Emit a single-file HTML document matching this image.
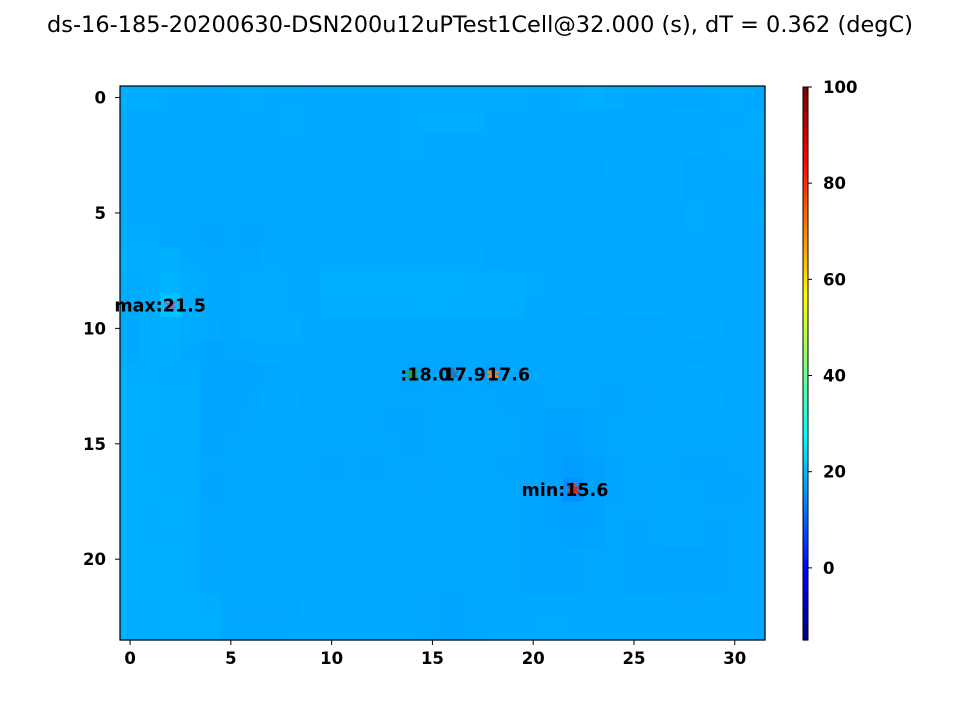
<!DOCTYPE html>
<html><head><meta charset="utf-8"><style>
body{margin:0;background:#fff}
svg text{font-family:"DejaVu Sans","Liberation Sans",sans-serif}
</style></head><body>
<svg id="chart" width="960" height="720" xmlns="http://www.w3.org/2000/svg">
<text x="480" y="32" text-anchor="middle" font-size="22" textLength="866" lengthAdjust="spacingAndGlyphs">ds-16-185-20200630-DSN200u12uPTest1Cell@32.000 (s), dT = 0.362 (degC)</text>
<g id="cells"></g>
<g id="annot"></g>
<rect x="120" y="86" width="645" height="554" fill="none" stroke="#000" stroke-width="1.2"/>
<g id="axes"></g>
<g id="cbar"></g>
</svg>
<script>
const grid = [
[19.0,19.0,18.6,18.6,18.4,18.6,18.8,18.6,18.6,18.4,18.6,18.6,18.6,18.6,18.8,18.8,18.8,18.8,18.8,18.8,18.6,18.6,18.8,19.2,18.8,18.6,18.6,18.2,18.2,18.6,18.8,18.4],
[18.6,18.4,18.6,18.6,18.6,18.6,18.6,18.6,18.8,18.6,18.6,18.6,18.6,18.6,18.8,19.0,19.0,19.0,18.6,18.6,18.6,18.6,18.6,18.6,18.4,18.6,18.6,18.6,18.6,18.6,18.6,18.8],
[18.4,18.4,18.6,18.6,18.4,18.6,18.6,18.6,18.6,18.4,18.4,18.6,18.6,18.6,18.8,18.6,18.6,18.6,18.6,18.6,18.6,18.6,18.4,18.4,18.6,18.6,18.6,18.6,18.6,18.6,18.8,18.6],
[18.4,18.4,18.6,18.6,18.4,18.6,18.6,18.6,18.6,18.4,18.4,18.4,18.4,18.6,18.6,18.6,18.4,18.6,18.6,18.6,18.4,18.6,18.6,18.2,18.6,18.6,18.6,18.6,18.2,18.4,18.6,18.6],
[18.4,18.6,18.6,18.6,18.4,18.6,18.6,18.6,18.6,18.4,18.6,18.6,18.6,18.6,18.4,18.2,18.2,18.2,18.4,18.4,18.4,18.6,18.6,18.4,18.4,18.4,18.6,18.6,18.2,18.4,18.4,18.2],
[18.6,18.4,18.4,18.6,18.4,18.6,18.6,18.6,18.6,18.4,18.6,18.6,18.4,18.6,18.6,18.4,18.4,18.4,18.6,18.6,18.6,18.2,18.4,18.4,18.2,18.2,18.4,18.4,18.8,18.6,18.6,18.6],
[18.8,18.8,18.4,18.2,18.0,18.2,18.0,18.2,18.4,18.4,18.6,18.6,18.6,18.6,18.4,18.2,18.2,18.4,18.4,18.4,18.2,18.4,18.4,18.4,18.4,18.4,18.4,18.4,18.6,18.6,18.6,18.2],
[19.0,19.0,19.2,18.6,18.4,18.2,18.2,18.6,18.6,18.4,18.6,18.6,18.6,18.6,18.6,18.6,18.6,18.6,18.2,18.4,18.4,18.4,18.6,18.6,18.4,18.4,18.4,18.4,18.6,18.4,18.2,18.4],
[18.8,19.0,19.6,19.0,18.6,18.4,18.8,18.8,18.6,18.6,19.2,19.2,19.2,19.2,19.2,19.2,19.2,19.0,19.0,19.0,18.8,18.6,18.4,18.6,18.6,18.6,18.6,18.4,18.6,18.6,18.6,18.4],
[18.6,19.0,21.5,19.0,18.6,18.4,18.8,18.8,18.6,18.6,19.0,19.0,19.0,19.0,19.0,19.2,19.0,19.0,19.0,19.0,18.4,18.4,18.4,18.6,18.6,18.6,18.6,18.6,18.6,18.4,18.4,18.4],
[18.6,19.0,19.2,18.8,18.6,18.2,18.8,18.8,18.8,18.4,18.6,18.6,18.6,18.6,18.4,18.4,18.4,18.2,18.2,18.4,18.4,18.4,18.2,18.2,18.4,18.2,18.2,18.4,18.6,18.6,18.2,18.4],
[18.6,19.0,19.0,18.6,18.0,18.2,18.4,18.6,18.6,18.4,18.4,18.4,18.4,18.4,18.4,18.4,18.2,18.2,18.2,18.2,18.4,18.2,18.2,18.2,18.2,18.4,18.4,18.4,18.2,18.4,18.4,18.4],
[19.0,19.0,18.8,18.8,18.0,18.0,18.0,18.2,18.4,18.4,18.4,18.4,18.4,18.4,18.0,18.2,17.9,18.4,17.6,18.4,18.2,18.2,18.2,18.2,18.4,18.4,18.4,18.4,18.6,18.6,18.4,18.4],
[19.2,19.2,19.0,19.0,18.0,18.0,18.2,18.6,18.6,18.2,18.2,18.2,18.4,18.2,18.2,18.2,18.2,18.2,18.2,18.0,18.0,18.2,18.2,18.2,18.0,18.2,18.2,18.2,18.4,18.6,18.2,18.4],
[19.2,19.2,19.0,19.0,18.0,18.0,18.4,18.4,18.4,18.2,18.2,18.2,18.4,18.0,18.0,18.2,18.2,18.2,18.2,18.2,18.0,17.6,17.6,18.0,18.2,18.2,18.4,18.2,18.2,18.4,18.2,18.4],
[19.2,19.0,19.0,19.0,18.0,18.2,18.4,18.4,18.4,18.2,18.4,18.4,18.2,18.2,18.0,18.2,18.2,18.2,18.4,18.2,18.0,17.4,17.4,18.0,18.2,18.4,18.4,18.2,18.2,18.4,18.2,18.2],
[19.2,19.0,19.0,19.0,18.2,18.2,18.4,18.4,18.4,18.2,18.0,18.2,18.0,18.2,18.2,18.2,18.2,18.2,18.2,18.0,18.0,17.4,17.0,17.4,18.0,18.4,18.2,18.2,18.0,18.0,18.2,18.2],
[19.2,19.2,19.0,19.0,18.0,18.2,18.2,18.4,18.4,18.2,18.2,18.2,18.2,18.2,18.2,18.2,18.4,18.4,18.4,18.2,18.0,17.6,15.6,17.6,18.0,18.2,18.2,18.2,18.2,18.0,18.0,18.2],
[19.2,19.0,19.2,19.0,18.4,18.2,18.4,18.6,18.6,18.6,18.4,18.4,18.4,18.4,18.4,18.4,18.2,18.2,18.2,18.2,18.0,17.6,17.4,17.6,18.2,18.2,18.2,18.2,18.2,18.2,18.2,18.4],
[19.2,19.0,19.0,19.0,18.4,18.2,18.4,18.4,18.4,18.4,18.4,18.4,18.4,18.6,18.4,18.4,18.2,18.2,18.2,18.2,18.0,17.8,17.6,17.8,18.2,18.0,18.2,18.2,18.2,18.0,18.2,18.4],
[19.2,19.2,19.2,19.0,18.2,18.2,18.2,18.4,18.4,18.4,18.4,18.4,18.4,18.4,18.4,18.2,18.2,18.4,18.2,18.2,18.0,18.0,18.0,18.2,18.2,17.8,18.0,17.8,17.8,18.0,18.2,18.4],
[19.2,19.2,19.2,19.0,18.4,18.2,18.2,18.4,18.4,18.4,18.4,18.4,18.4,18.4,18.4,18.4,18.2,18.4,18.4,18.2,18.0,18.0,18.0,18.2,18.2,18.0,18.0,18.0,18.0,18.0,18.2,18.4],
[19.0,19.0,19.2,19.2,19.0,18.2,18.2,18.2,18.2,18.6,18.6,18.4,18.4,18.4,18.2,18.2,18.0,18.2,18.4,18.6,18.6,18.6,18.6,18.4,18.6,18.6,18.6,18.4,18.4,18.6,18.6,18.4],
[19.0,19.0,19.2,19.2,19.2,18.2,18.2,18.2,18.4,18.4,18.6,18.4,18.4,18.4,18.4,18.2,18.0,18.2,18.4,18.6,18.6,18.8,18.6,18.6,18.6,18.6,18.6,18.4,18.6,18.6,18.6,18.4]
];
const xTicks = [0,5,10,15,20,25,30];
const yTicks = [0,5,10,15,20];
const cbTicks = [0,20,40,60,80,100];
const vmin = -15, vmax = 100;
const markCols = [2,14,16,18,22];
const markRows = [9,12,12,12,17];
const markLabels = ["max:21.5",":18.0","17.9","17.6","min:15.6"];
const markColors = ["#9467bd","#2ca02c","#1f77b4","#ff7f0e","#d62728"];
const NS="http://www.w3.org/2000/svg";
const px0=120,py0=86,pw=645,ph=554,nc=32,nr=24,cw=pw/nc,ch=ph/nr;
const xs=c=>px0+(c+0.5)*cw, ys=r=>py0+(r+0.5)*ch;
const labelShift=[-56,-12,-10,-6,-52];
function jet(t){t=Math.max(0,Math.min(1,t));
 const f=x=>Math.max(0,Math.min(1,x));
 const r=f(Math.min(4*t-1.5,-4*t+4.5)),g=f(Math.min(4*t-0.5,-4*t+3.5)),b=f(Math.min(4*t+0.5,-4*t+2.5));
 return `rgb(${Math.round(r*255)},${Math.round(g*255)},${Math.round(b*255)})`;}
function mk(tag,attrs,parent){const e=document.createElementNS(NS,tag);for(const k in attrs)e.setAttribute(k,attrs[k]);parent.appendChild(e);return e;}
const cells=document.getElementById('cells');
grid.forEach((row,r)=>row.forEach((v,c)=>{
 const e=mk('rect',{x:px0+c*cw,y:py0+r*ch,width:cw+0.6,height:ch+0.6,fill:jet((v-vmin)/(vmax-vmin))},cells);
 
 
}));
const an=document.getElementById('annot');
markCols.forEach((c,i)=>{
 const x=xs(c),y=ys(markRows[i]);
 const p=mk('text',{x:x,y:y+6,'text-anchor':'middle','font-size':'17',fill:markColors[i],'font-weight':'bold'},an);p.textContent='✱';
 
 
});
markCols.forEach((c,i)=>{
 const x=xs(c),y=ys(markRows[i]);
 const t=mk('text',{x:x+labelShift[i],y:y+6,'font-size':'17.5','font-weight':'bold'},an);
 t.textContent=markLabels[i];
 
 
});
const ax=document.getElementById('axes');
xTicks.forEach(v=>{const x=xs(v);
 mk('line',{x1:x,x2:x,y1:640,y2:645,stroke:'#000'},ax);
 const t=mk('text',{x:x,y:664,'text-anchor':'middle','font-size':'16.5','font-weight':'bold'},ax);t.textContent=v;
 
 
});
yTicks.forEach(v=>{const y=ys(v);
 mk('line',{x1:115,x2:120,y1:y,y2:y,stroke:'#000'},ax);
 const t=mk('text',{x:106,y:y+6,'text-anchor':'end','font-size':'16.5','font-weight':'bold'},ax);t.textContent=v;
 
 
});
const cb=document.getElementById('cbar');
const cbx=803,cbw=5,cby0=87,cby1=640;
const cs=v=>cby1-(v-vmin)/(vmax-vmin)*(cby1-cby0);
for(let i=0;i<110;i++){const y=cby0+i*(cby1-cby0)/110;
 mk('rect',{x:cbx,y:y,width:cbw,height:(cby1-cby0)/110+0.6,fill:jet(1-i/110)},cb);}
mk('rect',{x:cbx,y:cby0,width:cbw,height:cby1-cby0,fill:'none',stroke:'#000','stroke-width':1},cb);
cbTicks.forEach(v=>{const y=cs(v);
 mk('line',{x1:cbx+cbw,x2:cbx+cbw+4,y1:y,y2:y,stroke:'#000'},cb);
 const t=mk('text',{x:823,y:y+6,'font-size':'16.5','font-weight':'bold'},cb);t.textContent=v;
 
 
});
</script>
</body></html>
